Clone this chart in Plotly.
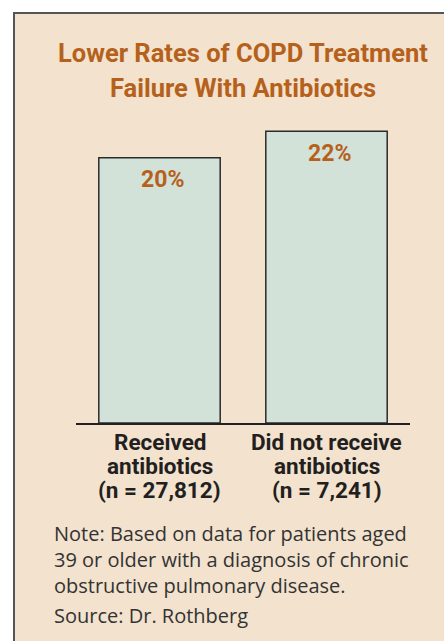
import plotly.graph_objects as go

# ---- data ----
categories = ["Received antibiotics", "Did not receive antibiotics"]
rates = [20, 22]
category_lines = [
    ["Received", "antibiotics", "(n = 27,812)"],
    ["Did not receive", "antibiotics", "(n = 7,241)"],
]
title_lines = ["Lower Rates of COPD Treatment", "Failure With Antibiotics"]
note_lines = [
    "Note: Based on data for patients aged",
    "39 or older with a diagnosis of chronic",
    "obstructive pulmonary disease.",
]
source_text = "Source: Dr. Rothberg"

W, H = 444, 641


def px(x):
    return x / W


def py(y):
    return 1 - y / H


NARROW = "Roboto, Liberation Sans, Arial, sans-serif"
ORANGE = "#B5611C"
DARK = "#231F20"
PANEL = "#F2E2CE"

fig = go.Figure()
fig.add_trace(
    go.Bar(
        x=categories,
        y=rates,
        width=0.727,
        marker=dict(color="#D3E2D8", line=dict(color="#2b2b2b", width=1.5)),
        hoverinfo="skip",
    )
)

annotations = []
# value labels
for c, r in zip(categories, rates):
    annotations.append(
        dict(
            x=c, y=r, xref="x", yref="y", text=f"{r}%", showarrow=False,
            yanchor="middle", xanchor="center", yshift=-22, xshift=3,
            font=dict(family="Roboto, Liberation Sans, Arial, sans-serif", size=23,
                      color=ORANGE, weight="bold"),
        )
    )
# category labels
cat_centers = [442, 466, 490]
for c, lines in zip(categories, category_lines):
    for yc, t in zip(cat_centers, lines):
        annotations.append(
            dict(
                x=c, y=py(yc), xref="x", yref="paper", text=t, showarrow=False,
                yanchor="middle", xanchor="center",
                font=dict(family=NARROW, size=22.5, color=DARK, weight="bold"),
            )
        )
# title
for yc, t in zip([53, 88], title_lines):
    annotations.append(
        dict(
            x=px(243), y=py(yc), xref="paper", yref="paper", text=t, showarrow=False,
            yanchor="middle", xanchor="center",
            font=dict(family=NARROW, size=25.5, color=ORANGE, weight="bold"),
        )
    )
# note and source
for yc, t in zip([533, 559, 585, 615], note_lines + [source_text]):
    annotations.append(
        dict(
            x=px(52), y=py(yc), xref="paper", yref="paper", text=t, showarrow=False,
            yanchor="middle", xanchor="left", align="left",
            font=dict(family="Open Sans, Liberation Sans, Arial, sans-serif", size=20,
                      color="#333333"),
        )
    )

shapes = [
    dict(type="rect", xref="paper", yref="paper", x0=px(13), x1=1.02, y0=-0.02, y1=py(13),
         fillcolor=PANEL, line=dict(width=0), layer="below"),
    dict(type="line", xref="paper", yref="paper", x0=px(14), x1=px(14), y0=-0.02, y1=py(12),
         line=dict(color="#555555", width=2), layer="below"),
    dict(type="line", xref="paper", yref="paper", x0=px(13), x1=1.02, y0=py(13), y1=py(13),
         line=dict(color="#555555", width=2), layer="below"),
]

fig.update_layout(
    width=W, height=H,
    margin=dict(l=0, r=0, t=0, b=0),
    paper_bgcolor="white",
    plot_bgcolor="rgba(0,0,0,0)",
    showlegend=False,
    annotations=annotations,
    shapes=shapes,
    xaxis=dict(
        domain=[px(76), px(410)], range=[-0.5, 1.5], showticklabels=False,
        showline=True, linecolor=DARK, linewidth=2, ticks="", showgrid=False,
        zeroline=False, fixedrange=True,
    ),
    yaxis=dict(
        domain=[py(423), py(124.6)], range=[0, 22.5], visible=False,
        showgrid=False, zeroline=False, fixedrange=True,
    ),
)

fig.write_html("out.html", config={"displayModeBar": False})
